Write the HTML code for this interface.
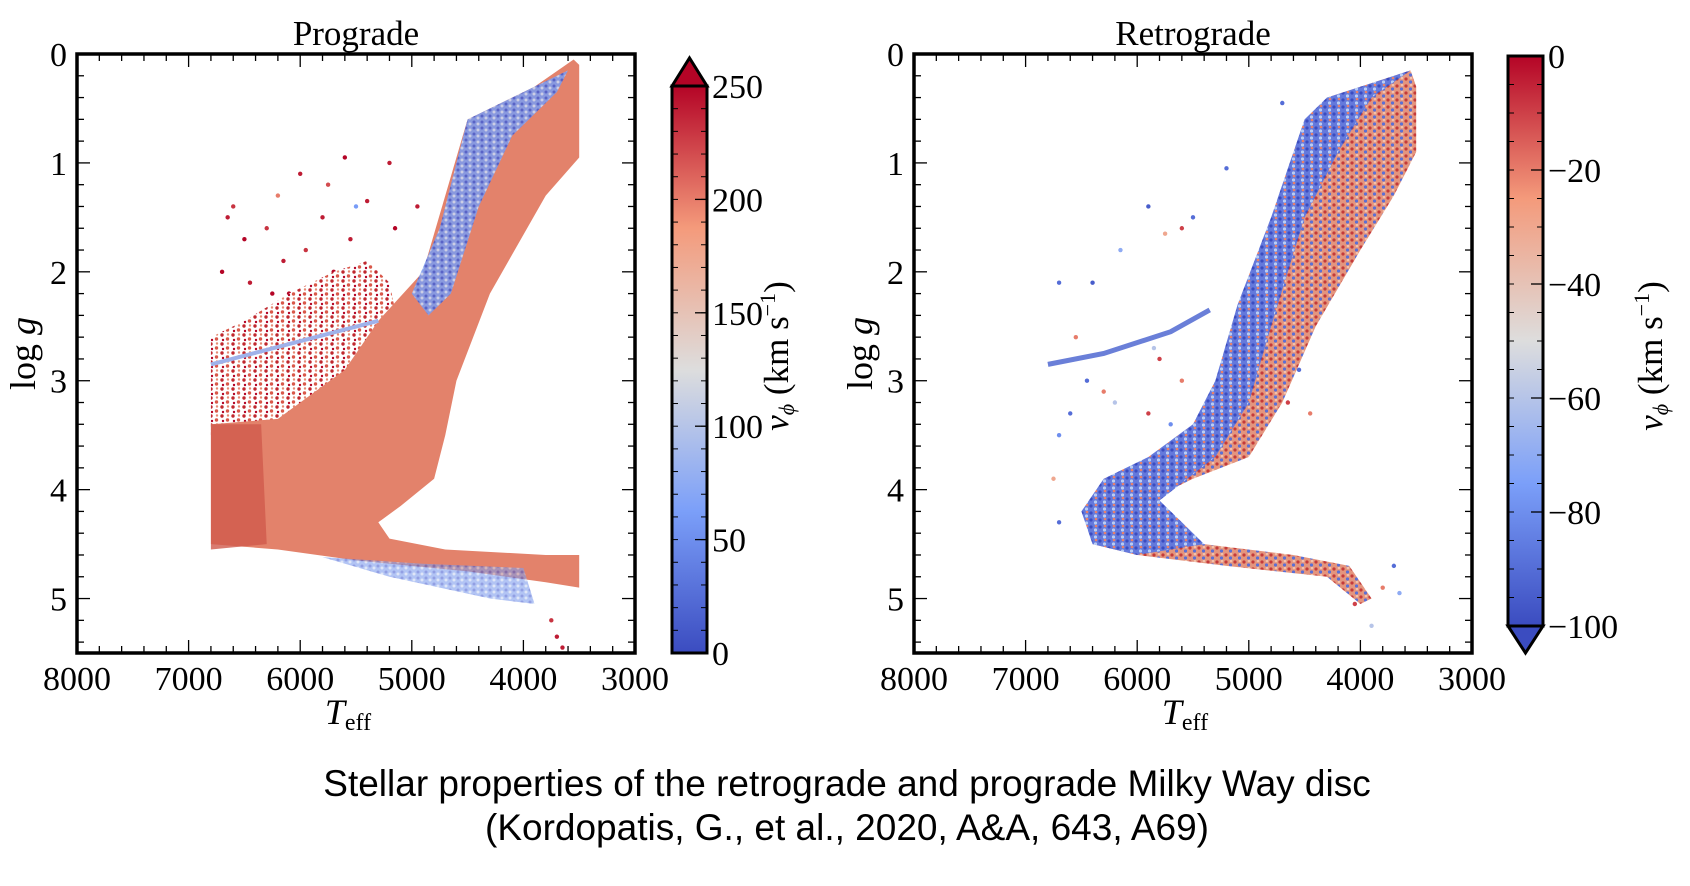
<!DOCTYPE html>
<html><head><meta charset="utf-8"><style>
body{margin:0;background:#fff;width:1690px;height:886px;overflow:hidden}
svg{display:block}
.t{font-family:"Liberation Serif",serif;fill:#000}
.cap{font-family:"Liberation Sans",sans-serif;font-size:37px;fill:#000}
</style></head><body>
<svg id="fig" width="1690" height="886">
<defs>
<linearGradient id="cw" x1="0" y1="1" x2="0" y2="0">
<stop offset="0" stop-color="#3b4cc0"/><stop offset="0.25" stop-color="#7b9ff9"/>
<stop offset="0.5" stop-color="#dddddd"/><stop offset="0.75" stop-color="#f49a7b"/>
<stop offset="1" stop-color="#b40426"/></linearGradient>
<pattern id="mixB" width="9" height="7" patternUnits="userSpaceOnUse">
<rect width="9" height="7" fill="#6479dc"/><circle cx="2" cy="2" r="1.6" fill="#3b4cc0"/><circle cx="6.5" cy="5" r="1.6" fill="#b8cdf5"/><circle cx="7" cy="1" r="1.3" fill="#e8806a"/></pattern>
<pattern id="mixR" width="9" height="7" patternUnits="userSpaceOnUse">
<rect width="9" height="7" fill="#e4957e"/><circle cx="2" cy="2" r="1.6" fill="#c43a3a"/><circle cx="6.5" cy="5" r="1.6" fill="#5a6fd6"/><circle cx="7" cy="1" r="1.3" fill="#f3c1aa"/></pattern>
<pattern id="mixL" width="8" height="6" patternUnits="userSpaceOnUse">
<rect width="8" height="6" fill="#7f9cec"/><circle cx="2" cy="2" r="1.5" fill="#4a5fd0"/><circle cx="6" cy="4" r="1.5" fill="#c9d6f2"/></pattern>
<pattern id="cloud" width="11" height="9" patternUnits="userSpaceOnUse">
<rect width="11" height="9" fill="#fff"/><circle cx="2" cy="2" r="1.7" fill="#c0282e"/><circle cx="7.5" cy="6" r="1.7" fill="#d9584a"/><circle cx="8" cy="1.5" r="1.2" fill="#e58a74"/><circle cx="3" cy="7" r="1.2" fill="#b40426"/></pattern>
</defs>
<g id="p1"></g>
<g id="p2"></g>
<text class="cap" x="847" y="796" text-anchor="middle">Stellar properties of the retrograde and prograde Milky Way disc</text>
<text class="cap" x="847" y="840" text-anchor="middle">(Kordopatis, G., et al., 2020, A&amp;A, 643, A69)</text>
</svg>
<script>
// ---- data ----
const xTicks=[8000,7000,6000,5000,4000,3000];
const yTicks=[0,1,2,3,4,5];
const cbTicksPro=[0,50,100,150,200,250];
const cbTicksRetro=[0,-20,-40,-60,-80,-100];
// prograde regions [Teff, logg]
const proCloudT=[6800,6500,6100,5700,5400,5200,5100,5300,5600,6000,6400,6800];
const proCloudG=[2.6,2.45,2.2,2.0,1.9,2.1,2.6,3.1,3.4,3.5,3.5,3.5];
const proBodyT=[6800,6200,5600,5300,4900,4500,3900,3550,3500,3500,3800,4300,4600,4700,4800,5100,5300,5200,4700,3800,3500,3500,3800,4500,5500,6200,6800];
const proBodyG=[3.4,3.35,2.9,2.45,2.0,0.6,0.3,0.05,0.1,0.95,1.3,2.2,3.0,3.5,3.9,4.15,4.3,4.45,4.55,4.6,4.6,4.9,4.85,4.75,4.65,4.55,4.5];
const proEdgeT=[6800,6350,6300,6800];
const proEdgeG=[3.4,3.4,4.5,4.55];
const proBlueT=[5000,4750,4500,3900,3600,3700,4100,4400,4650,4850];
const proBlueG=[2.2,1.6,0.6,0.3,0.15,0.35,0.75,1.4,2.2,2.4];
const proMsBlueT=[5800,4900,4000,3900,4300,5200];
const proMsBlueG=[4.62,4.68,4.72,5.05,5.0,4.8];
const proRcT=[6800,5300];const proRcG=[2.85,2.45];
const proPtsT=[6650,6600,6500,6450,6300,6200,6150,6100,6000,5950,5900,5800,5750,5700,5650,5600,5550,5500,5450,5400,6700,6550,6400,6250,6050,5850,5350,6600,6350,6150,5900,5650,5450,6750,6450,6250,6000,5800,5550,5200,5150,4950,3700,3750,3650];
const proPtsG=[1.5,1.4,1.7,2.1,1.6,1.3,1.9,2.2,1.1,1.8,2.3,1.5,1.2,2.0,2.4,0.95,1.7,1.4,2.1,1.35,2.0,2.6,2.5,2.2,2.6,2.7,2.0,2.9,3.0,2.8,3.1,2.9,3.2,3.3,3.2,3.4,3.0,2.6,2.8,1.0,1.6,1.4,5.35,5.2,5.45];
const proPtsV=[240,230,250,240,230,200,240,250,240,230,250,240,220,250,240,250,240,60,230,240,250,240,230,250,240,250,230,240,250,230,240,250,240,250,240,230,250,240,230,240,250,240,240,230,240];
// retrograde regions
const retBlueT=[3550,4300,4500,4800,5100,5300,5500,5900,6300,6500,6400,6000,5400,5600,5800,5300,5000,4800,4500,4200,3900];
const retBlueG=[0.15,0.4,0.6,1.5,2.3,3.0,3.4,3.7,3.9,4.2,4.5,4.6,4.5,4.3,4.1,3.7,3.2,2.5,1.5,0.9,0.4];
const retRedT=[4300,3550,3500,3500,3700,4000,4400,4700,5000,5500,5900,5800,5400,4600,4100,3900,4000,4300,5200,6000,6400,6300,6000,5500,5300,5000,4800,4500];
const retRedG=[0.4,0.15,0.3,0.9,1.3,1.8,2.5,3.2,3.7,3.9,4.1,4.35,4.5,4.6,4.7,5.0,5.05,4.8,4.7,4.6,4.5,4.2,4.0,3.8,3.1,2.4,1.6,0.7];
const retRcT=[6800,6300,5700,5350];const retRcG=[2.85,2.75,2.55,2.35];
const retPtsT=[6700,6400,6150,5600,5750,5500,5900,5200,4700,5850,6550,6600,6700,6750,6700,6450,6300,6200,5900,5700,3700,3650,3800,4050,3900,5800,5600,4650,4550,4450];
const retPtsG=[2.1,2.1,1.8,1.6,1.65,1.5,1.4,1.05,0.45,2.7,2.6,3.3,3.5,3.9,4.3,3.0,3.1,3.2,3.3,3.4,4.7,4.95,4.9,5.05,5.25,2.8,3.0,3.2,2.9,3.3];
const retPtsV=[-90,-95,-70,-10,-30,-90,-95,-90,-90,-60,-20,-90,-80,-30,-90,-90,-20,-60,-10,-80,-90,-70,-20,-10,-60,-10,-20,-10,-90,-20];

function cw(t){const s=[[59,76,192],[123,159,249],[221,221,221],[244,154,123],[180,4,38]];t=Math.max(0,Math.min(1,t))*4;const i=Math.min(3,Math.floor(t)),f=t-i;const c=s[i].map((v,k)=>Math.round(v+(s[i+1][k]-v)*f));return `rgb(${c})`;}
const NS='http://www.w3.org/2000/svg';
function mk(p,tag,a){const e=document.createElementNS(NS,tag);for(const k in a)e.setAttribute(k,a[k]);p.appendChild(e);return e;}

function panel(g,o){
  const x0=o.x0,x1=o.x0+558,y0=54,y1=653;
  const X=t=>x0+(8000-t)/5000*(x1-x0), Y=v=>y0+v/5.5*(y1-y0);
  const poly=(T,G,fill,name,op)=>{const e=mk(g,'polygon',{points:T.map((t,i)=>X(t)+','+Y(G[i])).join(' '),fill:fill,opacity:op||1});
    };
  o.draw(X,Y,poly);
  const f=mk(g,'rect',{x:x0,y:y0,width:x1-x0,height:y1-y0,fill:'none',stroke:'#000','stroke-width':3.5});
  
  for(let t=3000;t<=8000;t+=200){const maj=t%1000===0,L=maj?13:7,x=X(t);
    mk(g,'line',{x1:x,x2:x,y1:y1,y2:y1-L,stroke:'#000','stroke-width':1.3});mk(g,'line',{x1:x,x2:x,y1:y0,y2:y0+L,stroke:'#000','stroke-width':1.3});}
  for(let i=0;i<=27;i++){const v=i*0.2,maj=i%5===0,L=maj?13:7,y=Y(v);
    mk(g,'line',{x1:x0,x2:x0+L,y1:y,y2:y,stroke:'#000','stroke-width':1.3});mk(g,'line',{x1:x1,x2:x1-L,y1:y,y2:y,stroke:'#000','stroke-width':1.3});}
  xTicks.forEach(t=>{const e=mk(g,'text',{x:X(t),y:690,'text-anchor':'middle','font-size':34,class:'t'});e.textContent=t;
    });
  yTicks.forEach(v=>{const e=mk(g,'text',{x:x0-10,y:Y(v)+12,'text-anchor':'end','font-size':34,class:'t'});e.textContent=v;
    });
  let e=mk(g,'text',{x:(x0+x1)/2,y:45,'text-anchor':'middle','font-size':35,class:'t'});e.textContent=o.title;
  
  e=mk(g,'text',{x:(x0+x1)/2-8,y:724,'text-anchor':'middle','font-size':36,class:'t','font-style':'italic'});
  e.innerHTML='T<tspan font-size="24" font-style="normal" dy="6">eff</tspan>';
  
  e=mk(g,'text',{x:0,y:0,'text-anchor':'middle','font-size':36,class:'t',transform:`translate(${x0-42},${(y0+y1)/2}) rotate(-90)`});
  e.innerHTML='log <tspan font-style="italic">g</tspan>';
  
  const cx=o.cbx,cwid=35,ct=o.cbTop,cb=o.cbBot;
  const cg=mk(g,'g',{});
  mk(cg,'rect',{x:cx,y:ct,width:cwid,height:cb-ct,fill:'url(#cw)'});
  if(o.arrowTop) mk(cg,'polygon',{points:`${cx},${ct} ${cx+cwid/2},${ct-28} ${cx+cwid},${ct}`,fill:'#b40426',stroke:'#000','stroke-width':3});
  else mk(cg,'polygon',{points:`${cx},${cb} ${cx+cwid/2},${cb+27} ${cx+cwid},${cb}`,fill:'#3b4cc0',stroke:'#000','stroke-width':3});
  mk(cg,'rect',{x:cx,y:ct,width:cwid,height:cb-ct,fill:'none',stroke:'#000','stroke-width':3});
  const vmin=o.vmin,vmax=o.vmax,CY=v=>cb-(v-vmin)/(vmax-vmin)*(cb-ct);
  for(let v=vmin;v<=vmax+1e-6;v+=o.minor){const y=CY(v);mk(cg,'line',{x1:cx,x2:cx+6,y1:y,y2:y,stroke:'#000','stroke-width':1});mk(cg,'line',{x1:cx+cwid,x2:cx+cwid-6,y1:y,y2:y,stroke:'#000','stroke-width':1});}
  o.cbTicks.forEach(v=>{const y=CY(v);mk(cg,'line',{x1:cx+cwid-12,x2:cx+cwid,y1:y,y2:y,stroke:'#000','stroke-width':1.3});
    const t=mk(cg,'text',{x:cx+cwid+5,y:y+12,'font-size':34,class:'t'});t.textContent=v<0?'\u2212'+(-v):v;
    });
  e=mk(g,'text',{x:0,y:0,'text-anchor':'middle','font-size':35,class:'t',transform:`translate(${o.cblx},356) rotate(-90)`});
  e.innerHTML='<tspan font-style="italic">v</tspan><tspan font-size="22" dy="6" font-style="italic">\u03d5</tspan><tspan dy="-6"> (km s</tspan><tspan font-size="22" dy="-13">\u22121</tspan><tspan dy="13">)</tspan>';
  
}

panel(document.getElementById('p1'),{x0:77,title:'Prograde',cbx:672,cbTop:86,cbBot:653,arrowTop:true,vmin:0,vmax:250,minor:10,cbTicks:cbTicksPro,cblx:788,
 draw:(X,Y,poly)=>{
  const g=document.getElementById('p1');
  proPtsT.forEach((t,i)=>{const c=mk(g,'circle',{cx:X(t),cy:Y(proPtsG[i]),r:2.2,fill:cw(proPtsV[i]/250)});
    });
  poly(proCloudT,proCloudG,'url(#cloud)','prograde-sparse-cloud');
  poly(proBodyT,proBodyG,'#e3826b','prograde-density');
  poly(proEdgeT,proEdgeG,'#d05a4c','prograde-hot-edge',0.8);
  poly(proBlueT,proBlueG,'url(#mixL)','prograde-blue-giants',0.9);
  poly(proMsBlueT,proMsBlueG,'url(#mixL)','prograde-blue-dwarfs',0.6);
  const l=mk(g,'line',{x1:X(proRcT[0]),y1:Y(proRcG[0]),x2:X(proRcT[1]),y2:Y(proRcG[1]),stroke:'#9fb2ea','stroke-width':4});
  
 }});
panel(document.getElementById('p2'),{x0:914,title:'Retrograde',cbx:1508,cbTop:56,cbBot:626,arrowTop:false,vmin:-100,vmax:0,minor:5,cbTicks:cbTicksRetro,cblx:1662,
 draw:(X,Y,poly)=>{
  const g=document.getElementById('p2');
  poly(retRedT,retRedG,'url(#mixR)','retrograde-red-side');
  poly(retBlueT,retBlueG,'url(#mixB)','retrograde-blue-side');
  const l=mk(g,'polyline',{points:retRcT.map((t,i)=>X(t)+','+Y(retRcG[i])).join(' '),fill:'none',stroke:'#6a7fd8','stroke-width':5});
  
  retPtsT.forEach((t,i)=>{const c=mk(g,'circle',{cx:X(t),cy:Y(retPtsG[i]),r:2.2,fill:cw((retPtsV[i]+100)/100)});
    });
 }});
</script>
</body></html>
